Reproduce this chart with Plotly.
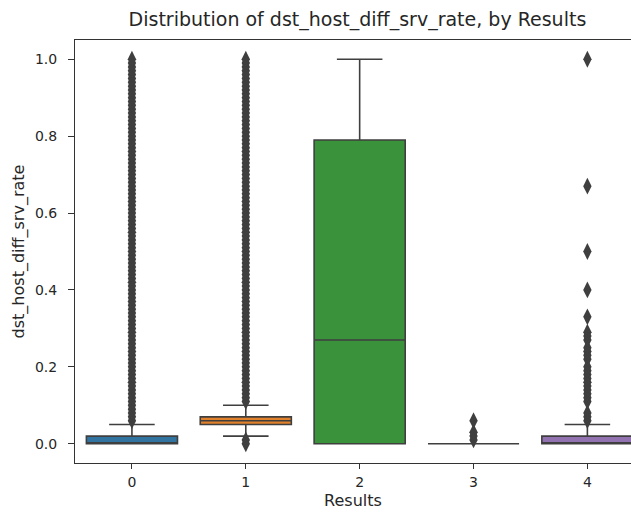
import plotly.graph_objects as go

# ---- data ----
categories = [0, 1, 2, 3, 4]
q1 = [0.0, 0.05, 0.0, 0.0, 0.0]
median = [0.0, 0.06, 0.27, 0.0, 0.0]
q3 = [0.02, 0.07, 0.79, 0.0, 0.02]
lower_whisker = [0.0, 0.02, 0.0, 0.0, 0.0]
upper_whisker = [0.05, 0.10, 1.0, 0.0, 0.05]

fliers_0 = [0.06, 0.07, 0.08, 0.09, 0.10, 0.11, 0.12, 0.13, 0.14, 0.15, 0.16, 0.17, 0.18, 0.19,
            0.20, 0.21, 0.22, 0.23, 0.24, 0.25, 0.26, 0.27, 0.28, 0.29, 0.30, 0.31, 0.32, 0.33,
            0.34, 0.35, 0.36, 0.37, 0.38, 0.39, 0.40, 0.41, 0.42, 0.43, 0.44, 0.45, 0.46, 0.47,
            0.48, 0.49, 0.50, 0.51, 0.52, 0.53, 0.54, 0.55, 0.56, 0.57, 0.58, 0.59, 0.60, 0.61,
            0.62, 0.63, 0.64, 0.65, 0.66, 0.67, 0.68, 0.69, 0.70, 0.71, 0.72, 0.73, 0.74, 0.75,
            0.76, 0.77, 0.78, 0.79, 0.80, 0.81, 0.82, 0.83, 0.84, 0.85, 0.86, 0.87, 0.88, 0.89,
            0.90, 0.91, 0.92, 0.93, 0.94, 0.95, 0.96, 0.97, 0.98, 0.99, 1.00]
fliers_1 = [0.0, 0.01, 0.11, 0.12, 0.13, 0.14, 0.15, 0.16, 0.17, 0.18, 0.19,
            0.20, 0.21, 0.22, 0.23, 0.24, 0.25, 0.26, 0.27, 0.28, 0.29, 0.30, 0.31, 0.32, 0.33,
            0.34, 0.35, 0.36, 0.37, 0.38, 0.39, 0.40, 0.41, 0.42, 0.43, 0.44, 0.45, 0.46, 0.47,
            0.48, 0.49, 0.50, 0.51, 0.52, 0.53, 0.54, 0.55, 0.56, 0.57, 0.58, 0.59, 0.60, 0.61,
            0.62, 0.63, 0.64, 0.65, 0.66, 0.67, 0.68, 0.69, 0.70, 0.71, 0.72, 0.73, 0.74, 0.75,
            0.76, 0.77, 0.78, 0.79, 0.80, 0.81, 0.82, 0.83, 0.84, 0.85, 0.86, 0.87, 0.88, 0.89,
            0.90, 0.91, 0.92, 0.93, 0.94, 0.95, 0.96, 0.97, 0.98, 0.99, 1.00]
fliers_2 = []
fliers_3 = [0.01, 0.02, 0.03, 0.06]
fliers_4 = [0.06, 0.07, 0.08, 0.11, 0.12, 0.13, 0.14, 0.15, 0.16, 0.17, 0.18, 0.19, 0.20,
            0.22, 0.23, 0.24, 0.25, 0.27, 0.28, 0.29, 0.33, 0.40, 0.50, 0.67, 1.00]
fliers = [fliers_0, fliers_1, fliers_2, fliers_3, fliers_4]

colors = ["#3274a1", "#e1812c", "#3a923a", "#c03d3e", "#9372b2"]
line_color = "#3f3f3f"

fig = go.Figure()
for i, cat in enumerate(categories):
    fig.add_trace(go.Box(
        x=[cat], q1=[q1[i]], median=[median[i]], q3=[q3[i]],
        lowerfence=[lower_whisker[i]], upperfence=[upper_whisker[i]],
        boxpoints=False, width=0.8, whiskerwidth=0.5,
        fillcolor=colors[i], line=dict(color=line_color, width=1.6),
        showlegend=False, hoverinfo="skip",
    ))
    if fliers[i]:
        fig.add_trace(go.Scatter(
            x=[cat] * len(fliers[i]), y=fliers[i], mode="markers",
            marker=dict(symbol="diamond-tall", size=12, color=line_color,
                        line=dict(width=0)),
            showlegend=False, hoverinfo="skip",
        ))

font_family = "DejaVu Sans"
fig.update_layout(
    width=631, height=514,
    margin=dict(l=75, r=0, t=40, b=51),
    plot_bgcolor="white", paper_bgcolor="white",
    font=dict(family=font_family, size=13, color="#262626"),
    title=dict(text="Distribution of dst_host_diff_srv_rate, by Results",
               x=0.508, xref="paper", xanchor="center", y=0.962, yanchor="middle",
               font=dict(size=19, color="#262626")),
    xaxis=dict(range=[-0.5, 4.383], tickmode="array", tickvals=categories,
               ticktext=[str(c) for c in categories],
               showline=True, linecolor="#333333", linewidth=1, mirror=True,
               ticks="outside", ticklen=5, tickcolor="#333333", showgrid=False,
               ticklabelstandoff=1, tickfont=dict(size=14),
               zeroline=False, title=dict(text="Results", standoff=6)),
    yaxis=dict(range=[-0.05, 1.05], tickvals=[0, 0.2, 0.4, 0.6, 0.8, 1.0],
               tickformat=".1f", showline=True, linecolor="#333333", linewidth=1,
               ticks="outside", ticklen=6, tickcolor="#333333", showgrid=False,
               ticklabelstandoff=8, tickfont=dict(size=14),
               zeroline=False, title=dict(text="dst_host_diff_srv_rate", standoff=6)),
)

fig.write_html("out.html")
